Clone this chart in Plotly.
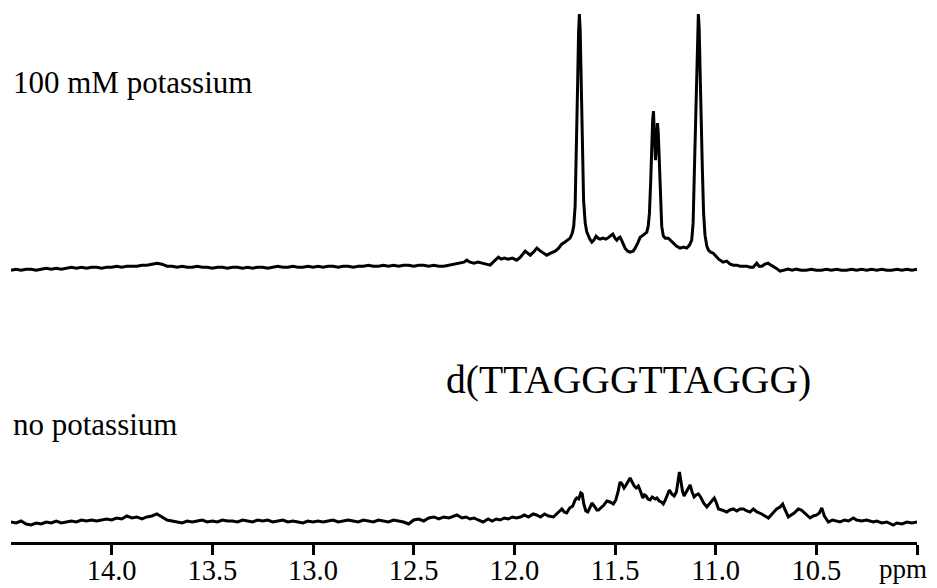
import plotly.graph_objects as go

# ---- 100 mM potassium spectrum (chemical shift, ppm / intensity, a.u.) ----
top_ppm = [
    14.500, 14.475, 14.450, 14.425, 14.400, 14.375, 14.350, 14.325, 14.300, 14.275,
    14.250, 14.225, 14.200, 14.175, 14.150, 14.125, 14.100, 14.075, 14.050, 14.025,
    14.000, 13.975, 13.950, 13.925, 13.900, 13.875, 13.850, 13.825, 13.800, 13.775,
    13.750, 13.725, 13.700, 13.675, 13.650, 13.625, 13.600, 13.575, 13.550, 13.525,
    13.500, 13.475, 13.450, 13.425, 13.400, 13.375, 13.350, 13.325, 13.300, 13.275,
    13.250, 13.225, 13.200, 13.175, 13.150, 13.125, 13.100, 13.075, 13.050, 13.025,
    13.000, 12.975, 12.950, 12.925, 12.900, 12.875, 12.850, 12.825, 12.800, 12.775,
    12.750, 12.725, 12.700, 12.675, 12.650, 12.625, 12.600, 12.575, 12.550, 12.525,
    12.500, 12.475, 12.450, 12.425, 12.400, 12.375,
    12.350, 12.325, 12.300, 12.275, 12.250, 12.236, 12.220, 12.200, 12.180, 12.160,
    12.140, 12.120, 12.100, 12.079, 12.065, 12.050, 12.030, 12.010, 11.988, 11.970,
    11.946, 11.921, 11.905, 11.888, 11.870, 11.855, 11.839, 11.820, 11.797, 11.780,
    11.765, 11.750, 11.735, 11.723, 11.712, 11.705, 11.698, 11.692, 11.686, 11.681,
    11.677, 11.673, 11.668, 11.662, 11.656, 11.648, 11.640, 11.625, 11.615, 11.605,
    11.594, 11.584, 11.574, 11.560, 11.545, 11.530, 11.511, 11.500, 11.491, 11.483,
    11.475, 11.463, 11.450, 11.437, 11.425, 11.410, 11.400, 11.385, 11.375, 11.360,
    11.342, 11.335, 11.329, 11.323, 11.318, 11.313, 11.309, 11.305, 11.301, 11.299,
    11.296, 11.292, 11.289, 11.285, 11.281, 11.277, 11.273, 11.268, 11.260, 11.250,
    11.235, 11.220, 11.210, 11.195, 11.177, 11.160, 11.144, 11.130, 11.119, 11.112,
    11.106, 11.100, 11.095, 11.090, 11.086, 11.082, 11.077, 11.072, 11.066, 11.060,
    11.053, 11.044, 11.036, 11.025, 11.012, 11.000, 10.985, 10.963, 10.945, 10.928,
    10.912, 10.895, 10.879, 10.862, 10.845, 10.830, 10.814, 10.805, 10.796, 10.785,
    10.771, 10.755, 10.740, 10.725, 10.715, 10.700, 10.680, 10.660, 10.640, 10.620,
    10.600, 10.575, 10.550, 10.525, 10.500, 10.475, 10.450, 10.425, 10.400, 10.375,
    10.350, 10.325, 10.300, 10.275, 10.250, 10.225, 10.200, 10.175, 10.150, 10.125,
    10.100, 10.075, 10.050, 10.025, 10.000,
]
top_int = [
    -2, -1, -2, -1, -1, -2, -1, 0, -1, 0,
    -1, 0, 1, 0, 1, 0, 1, 1, 0, 1,
    1, 2, 1, 2, 2, 2, 3, 3, 4, 5,
    4, 2, 2, 1, 2, 1, 1, 2, 1, 1,
    0, 1, 1, 0, 1, 1, 0, 1, 0, 1,
    1, 0, 1, 2, 1, 1, 2, 1, 1, 2,
    1, 2, 1, 2, 2, 1, 2, 2, 1, 2,
    2, 3, 2, 2, 3, 2, 3, 2, 3, 3,
    2, 3, 3, 2, 3, 2,
    2, 3, 4, 5, 6, 8, 6, 5, 6, 5,
    4, 3, 7, 11, 9, 10, 9, 10, 8, 11,
    17, 13, 16, 20, 17, 15, 13, 15, 17, 20,
    24, 26, 28, 30, 35, 42, 62, 110, 180, 235,
    254, 238, 185, 115, 68, 45, 36, 29, 26, 28,
    32, 30, 29, 30, 29, 31, 34, 30, 28, 30,
    31, 26, 20, 17, 16, 17, 20, 26, 31, 33,
    36, 42, 55, 85, 120, 148, 157, 140, 115, 108,
    118, 138, 145, 135, 112, 90, 60, 42, 32, 30,
    30, 27, 25, 22, 20, 21, 20, 23, 28, 45,
    95, 150, 205, 240, 254, 240, 205, 150, 98, 55,
    33, 22, 18, 16, 15, 12, 9, 6, 7, 4,
    3, 3, 2, 2, 2, 1, 1, 3, 5, 2,
    2, 4, 5, 3, 2, 0, -3, -2, -1, -2,
    -1, -2, -2, -1, -2, -2, -1, -2, -1, -2,
    -2, -1, -2, -1, -2, -1, -2, -1, -2, -2,
    -1, -2, -1, -2, -1,
]

# ---- no potassium spectrum ----
bot_ppm = [
    14.500, 14.475, 14.450, 14.425, 14.400, 14.375, 14.350, 14.325, 14.300, 14.275,
    14.250, 14.225, 14.200, 14.175, 14.150, 14.125, 14.100, 14.075, 14.050, 14.025,
    14.000, 13.975, 13.950, 13.925, 13.900, 13.875, 13.850, 13.825, 13.800, 13.775,
    13.750, 13.725, 13.700, 13.675, 13.650, 13.625, 13.600, 13.575, 13.550, 13.525,
    13.500, 13.475, 13.450, 13.425, 13.400, 13.375, 13.350, 13.325, 13.300, 13.275,
    13.250, 13.225, 13.200, 13.175, 13.150, 13.125, 13.100, 13.075, 13.050, 13.025,
    13.000, 12.975, 12.950, 12.925, 12.900, 12.875, 12.850, 12.825, 12.800, 12.775,
    12.750, 12.725, 12.700, 12.675, 12.650, 12.625, 12.600, 12.575, 12.550, 12.525,
    12.500, 12.475, 12.450, 12.425, 12.400, 12.375, 12.350, 12.325, 12.300, 12.285,
    12.260, 12.240, 12.220, 12.200, 12.180, 12.155, 12.130, 12.110, 12.090, 12.070,
    12.050, 12.030, 12.010, 11.990, 11.970, 11.950, 11.930, 11.906, 11.890, 11.870,
    11.850, 11.830, 11.806, 11.790, 11.773, 11.764, 11.752, 11.740, 11.725, 11.710,
    11.698, 11.690, 11.680, 11.670, 11.663, 11.655, 11.645, 11.635, 11.625, 11.615,
    11.600, 11.590, 11.582, 11.570, 11.555, 11.540, 11.525, 11.508, 11.496, 11.485,
    11.475, 11.465, 11.455, 11.445, 11.435, 11.425, 11.415, 11.405, 11.395, 11.384,
    11.372, 11.362, 11.354, 11.346, 11.336, 11.326, 11.315, 11.300, 11.292, 11.280,
    11.270, 11.260, 11.250, 11.240, 11.230, 11.218, 11.206, 11.195, 11.188, 11.180,
    11.172, 11.165, 11.157, 11.147, 11.137, 11.127, 11.117, 11.107, 11.097, 11.086,
    11.075, 11.060, 11.044, 11.030, 11.015, 11.007, 10.998, 10.986, 10.970, 10.945,
    10.930, 10.912, 10.895, 10.879, 10.862, 10.845, 10.829, 10.813, 10.795, 10.780,
    10.771, 10.755, 10.738, 10.720, 10.710, 10.697, 10.680, 10.667, 10.655, 10.639,
    10.625, 10.610, 10.589, 10.575, 10.564, 10.548, 10.531, 10.515, 10.498, 10.485,
    10.473, 10.460, 10.440, 10.420, 10.400, 10.382, 10.360, 10.340, 10.316, 10.300,
    10.275, 10.250, 10.217, 10.200, 10.175, 10.150, 10.118, 10.100, 10.075, 10.050,
    10.025, 10.000,
]
bot_int = [
    0, -1, 1, -2, -3, -1, -2, 0, -1, 1,
    -1, 0, 1, 0, 2, 1, 2, 1, 2, 3,
    2, 4, 3, 6, 4, 5, 3, 5, 6, 8,
    5, 2, 1, 0, -1, 1, 0, 1, 2, 0,
    1, 0, 2, 1, 1, 0, 2, 1, 0, 2,
    1, 2, 0, 1, 2, 0, 1, 0, -1, 1,
    0, 1, 0, 1, 2, 0, 1, 2, 1, 0,
    2, 1, 0, 2, 1, 0, 2, 1, 0, -2,
    2, 3, 1, 4, 5, 3, 5, 4, 6, 7,
    4, 5, 3, 4, 2, 0, 3, 1, 3, 2,
    4, 3, 5, 4, 5, 7, 5, 8, 7, 5,
    8, 6, 5, 8, 12, 13, 10, 9, 14, 16,
    22, 24, 23, 29, 28, 18, 11, 10, 14, 19,
    15, 12, 12, 14, 17, 21, 20, 18, 22, 30,
    40, 38, 34, 37, 41, 44, 40, 36, 34, 36,
    30, 24, 27, 26, 23, 22, 25, 23, 24, 21,
    20, 18, 22, 27, 32, 28, 26, 30, 38, 50,
    40, 31, 26, 30, 34, 37, 30, 25, 27, 28,
    25, 19, 15, 18, 22, 24, 20, 13, 12, 10,
    12, 13, 11, 13, 13, 11, 10, 13, 10, 9,
    8, 6, 4, 8, 10, 13, 15, 18, 12, 5,
    7, 9, 13, 12, 10, 7, 4, 6, 7, 9,
    14, 6, 0, 2, 1, 0, 2, 1, 4, 2,
    1, 2, 0, 1, -1, 0, -3, -1, -2, 0,
    -1, 0,
]

tick_vals = [14.0, 13.5, 13.0, 12.5, 12.0, 11.5, 11.0, 10.5, 10.0]
tick_text = ["14.0", "13.5", "13.0", "12.5", "12.0", "11.5", "11.0", "10.5", ""]

FONT = "Liberation Serif"

fig = go.Figure()
fig.add_trace(go.Scatter(x=bot_ppm, y=bot_int, mode="lines", xaxis="x", yaxis="y",
                         line=dict(color="black", width=3), hoverinfo="skip"))
fig.add_trace(go.Scatter(x=top_ppm, y=top_int, mode="lines", xaxis="x", yaxis="y2",
                         line=dict(color="black", width=3), hoverinfo="skip"))

fig.update_layout(
    width=929, height=580,
    margin=dict(l=2.7, r=20.3, t=0, b=46.3),
    paper_bgcolor="white", plot_bgcolor="white",
    showlegend=False,
    font=dict(family=FONT, color="black"),
    xaxis=dict(range=[14.5, 10.0], showgrid=False, zeroline=False,
               showline=True, linecolor="black", linewidth=3,
               ticks="outside", ticklen=10, tickwidth=3, tickcolor="black",
               tickvals=tick_vals, ticktext=tick_text, ticklabelstandoff=-9,
               tickfont=dict(family=FONT, size=28.5, color="black")),
    yaxis=dict(domain=[0, 0.3], range=[-20, 140.1], visible=False),
    yaxis2=dict(domain=[0.4, 1.0], range=[-60.2, 260], visible=False),
    annotations=[
        dict(text="100 mM potassium", xref="paper", yref="paper", x=0.0, y=0.861,
             xanchor="left", yanchor="middle", showarrow=False,
             font=dict(family=FONT, size=31, color="black")),
        dict(text="no potassium", xref="paper", yref="paper", x=0.0, y=0.2192,
             xanchor="left", yanchor="middle", showarrow=False,
             font=dict(family=FONT, size=31, color="black")),
        dict(text="d(TTAGGGTTAGGG)", xref="paper", yref="paper", x=0.8855, y=0.3037,
             xanchor="right", yanchor="middle", showarrow=False,
             font=dict(family=FONT, size=39.6, color="black")),
        dict(text="ppm", xref="paper", yref="paper", x=0.985, y=-0.0504,
             xanchor="center", yanchor="middle", showarrow=False,
             font=dict(family=FONT, size=27, color="black")),
    ],
)

fig.write_html("out.html")
